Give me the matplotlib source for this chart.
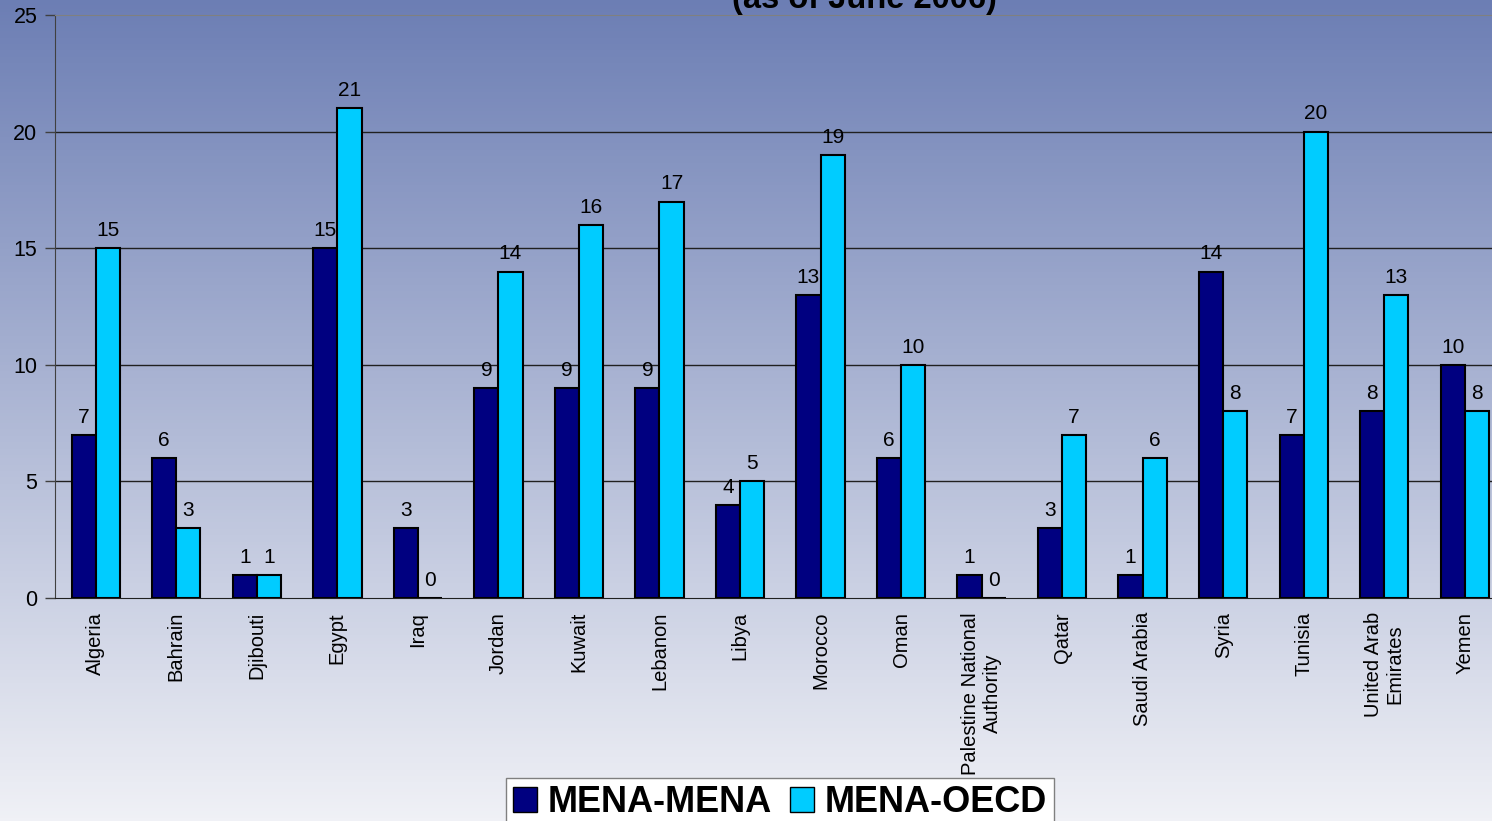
import numpy as np
import matplotlib.pyplot as plt
from matplotlib.patches import Patch

plt.rcParams['font.family'] = ['Liberation Sans', 'DejaVu Sans']

# 資料
countries = ["Algeria", "Bahrain", "Djibouti", "Egypt", "Iraq", "Jordan", "Kuwait",
             "Lebanon", "Libya", "Morocco", "Oman", "Palestine National\nAuthority",
             "Qatar", "Saudi Arabia", "Syria", "Tunisia", "United Arab\nEmirates", "Yemen"]
mena_mena = [7, 6, 1, 15, 3, 9, 9, 9, 4, 13, 6, 1, 3, 1, 14, 7, 8, 10]
mena_oecd = [15, 3, 1, 21, 0, 14, 16, 17, 5, 19, 10, 0, 7, 6, 8, 20, 13, 8]
yticks = [0, 5, 10, 15, 20, 25]

W, H = 1492, 821
fig = plt.figure(figsize=(W / 100, H / 100), dpi=100)

# 背景漸層
bg = fig.add_axes([0, 0, 1, 1], zorder=-10)
top = np.array([108, 126, 180]) / 255
bottom = np.array([240, 241, 246]) / 255
t = np.linspace(0, 1, 256)[:, None]
grad = top[None, :] * (1 - t) + bottom[None, :] * t
bg.imshow(grad[:, None, :], aspect='auto', extent=[0, 1, 0, 1])
bg.axis('off')

ax = fig.add_axes([55.5 / W, 1 - 598 / H, (1505 - 55.5) / W, (598 - 15) / H])
ax.patch.set_alpha(0)

x = np.arange(len(countries))
bw = 0.3
b1 = ax.bar(x - bw / 2, mena_mena, bw, color='#000080', edgecolor='black', linewidth=1.5, zorder=3)
b2 = ax.bar(x + bw / 2, mena_oecd, bw, color='#00ccff', edgecolor='black', linewidth=1.5, zorder=3)

for bars, vals in [(b1, mena_mena), (b2, mena_oecd)]:
    for b, v in zip(bars, vals):
        ax.text(b.get_x() + b.get_width() / 2, v + 0.35, str(v), ha='center', va='bottom',
                fontsize=15, color='black', zorder=4)

ax.set_xlim(-0.5, len(countries) - 0.5)
ax.set_ylim(0, 25)
ax.set_yticks(yticks)
ax.set_yticklabels([str(v) for v in yticks], fontsize=15.5)
ax.tick_params(axis='y', length=7, width=1, color='#404040', pad=6)
ax.set_xticks(x)
ax.set_xticklabels(countries, rotation=90, fontsize=14.5, va='top', ha='center',
                   multialignment='center')
ax.tick_params(axis='x', length=0, pad=10)

for v in yticks[1:-1]:
    ax.axhline(v, color='#202020', linewidth=1, zorder=1)
ax.spines['top'].set_color('#808080')
ax.spines['left'].set_color('#404040')
ax.spines['bottom'].set_color('#202020')
ax.spines['right'].set_visible(False)

fig.text(864 / W, 1 - 8 / H, "(as of June 2006)", ha='center', va='baseline',
         fontsize=23.5, fontweight='bold')

handles = [Patch(facecolor='#000080', edgecolor='black', label='MENA-MENA'),
           Patch(facecolor='#00ccff', edgecolor='black', label='MENA-OECD')]
leg = fig.legend(handles=handles, loc='upper center', bbox_to_anchor=(780 / W, 1 - 778 / H),
                 ncol=2, frameon=True, fancybox=False, prop={'size': 26, 'weight': 'bold'},
                 handlelength=0.65, handleheight=0.65, handletextpad=0.3, columnspacing=0.5,
                 borderpad=0.2, borderaxespad=0)
leg.get_frame().set_edgecolor('#808080')
leg.get_frame().set_facecolor('white')
leg.get_frame().set_alpha(1)

fig.savefig('out.png', dpi=100)
